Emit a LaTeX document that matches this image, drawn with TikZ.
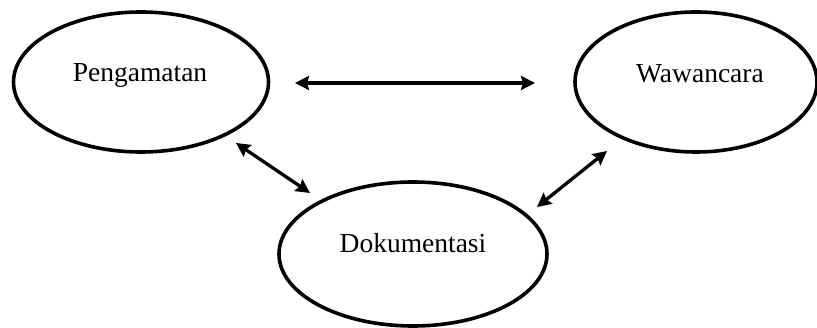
\documentclass[tikz,border=0pt]{standalone}
\usepackage{fontspec}
\setmainfont{Liberation Serif}
\usetikzlibrary{shapes.geometric,arrows.meta}
\begin{document}
\begin{tikzpicture}[x=1pt,y=-1pt,
  oval/.style={draw=black,line width=3.6pt,ellipse,inner sep=0pt},
  lbl/.style={font=\fontsize{27.5}{30}\selectfont,text=black,inner sep=0pt},
  link/.style={line width=3.3pt,{Stealth[length=14pt,width=14pt,inset=2pt]}-{Stealth[length=14pt,width=14pt,inset=2pt]}}]
\useasboundingbox (0,0) rectangle (817,328);
\fill[white] (0,0) rectangle (817,328);
\node[oval,minimum width=255pt,minimum height=140pt] (p) at (141,82) {};
\node[oval,minimum width=242pt,minimum height=140pt] (w) at (696,82) {};
\node[oval,minimum width=268pt,minimum height=144pt] (d) at (413,254) {};
\node[lbl] (pt) at (140,75) {Pengamatan};
\node[lbl] (wt) at (700,74) {Wawancara};
\node[lbl] (dt) at (413,243) {Dokumentasi};
\coordinate (h1) at (295,83);
\coordinate (h2) at (535,83);
\coordinate (l1) at (236,143);
\coordinate (l2) at (310,193);
\coordinate (r1) at (537,207);
\coordinate (r2) at (607,151);
\draw[link] (h1) -- (h2);
\draw[link] (l1) -- (l2);
\draw[link] (r1) -- (r2);
\end{tikzpicture}
\end{document}
